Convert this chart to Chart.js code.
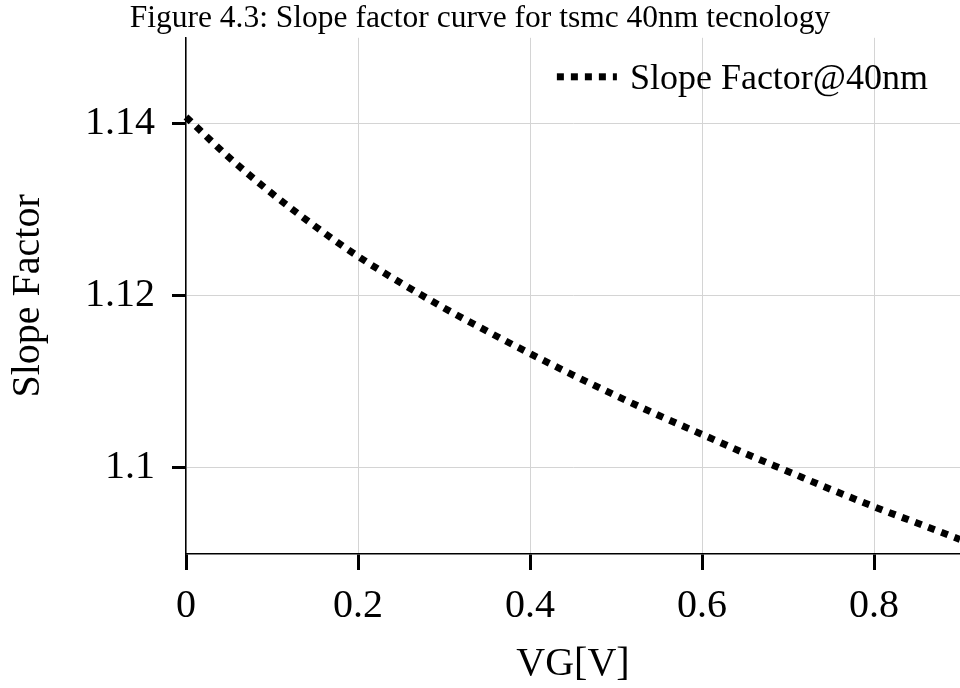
<!DOCTYPE html>
<html><head><meta charset="utf-8">
<script src="https://cdn.jsdelivr.net/npm/chart.js@4/dist/chart.umd.min.js"></script>
<style>html,body{margin:0;padding:0;background:#fff;overflow:hidden}</style>
</head><body>
<canvas id="c" width="960" height="688"></canvas>
<script>
const titleText = 'Figure 4.3: Slope factor curve for tsmc 40nm tecnology';
const seriesLabel = 'Slope Factor@40nm';
const xTitle = 'VG[V]';
const yTitle = 'Slope Factor';
const vg = [0, 0.05, 0.1, 0.15, 0.2, 0.25, 0.3, 0.35, 0.4, 0.45, 0.5, 0.55, 0.6, 0.65, 0.7, 0.75, 0.8, 0.85, 0.9];
const slopeFactor = [1.1408, 1.1361, 1.1319, 1.1281, 1.1246, 1.1215, 1.1186, 1.1159, 1.1133, 1.1108, 1.1084, 1.1061, 1.1039, 1.1017, 1.0996, 1.0975, 1.0955, 1.0936, 1.0917];
const xTicks = [0, 0.2, 0.4, 0.6, 0.8];
const yTicks = [1.1, 1.12, 1.14];
const xRange = [0, 0.9];
const yRange = [1.09, 1.15];

const FONT = "'Liberation Serif', 'Times New Roman', serif";

const insetLegend = {
  id: 'insetLegend',
  afterDraw(chart) {
    const ds = chart.data.datasets[0];
    const ctx = chart.ctx;
    const a = chart.chartArea;
    ctx.save();
    ctx.font = '36px ' + FONT;
    const tw = ctx.measureText(ds.label).width;
    const tx = a.right - 32 - tw;
    const ty = a.top + 42;
    ctx.fillStyle = '#000';
    ctx.textBaseline = 'middle';
    ctx.textAlign = 'left';
    ctx.fillText(ds.label, tx, ty);
    ctx.strokeStyle = ds.borderColor;
    ctx.lineWidth = ds.borderWidth;
    ctx.lineCap = 'butt';
    ctx.setLineDash(ds.borderDash);
    ctx.beginPath();
    ctx.moveTo(tx - 13 - 60, ty - 3);
    ctx.lineTo(tx - 13, ty - 3);
    ctx.stroke();
    ctx.restore();
  }
};

new Chart(document.getElementById('c'), {
  type: 'line',
  data: {
    datasets: [{
      label: seriesLabel,
      data: vg.map((x, i) => ({x: x, y: slopeFactor[i]})),
      borderColor: '#000',
      borderWidth: 7,
      borderDash: [7, 7],
      borderCapStyle: 'butt',
      pointRadius: 0,
      fill: false,
      cubicInterpolationMode: 'monotone',
      clip: false
    }]
  },
  options: {
    responsive: false,
    animation: false,
    devicePixelRatio: 1,
    layout: {padding: 0},
    plugins: {
      legend: {display: false},
      tooltip: {enabled: false},
      title: {
        display: true,
        text: titleText,
        color: '#000',
        font: {family: FONT, size: 31.5, weight: 'normal', lineHeight: 1.2},
        padding: {top: 0, bottom: 0}
      }
    },
    scales: {
      x: {
        type: 'linear',
        min: xRange[0],
        max: xRange[1],
        afterBuildTicks: s => { s.ticks = xTicks.map(v => ({value: v})); },
        afterFit: s => { s.height = 134; s.paddingRight = 0; },
        ticks: {
          callback: v => String(v),
          color: '#000',
          font: {family: FONT, size: 40},
          padding: 12,
          maxRotation: 0,
          autoSkip: false
        },
        grid: {color: '#d4d4d4', lineWidth: 1, tickColor: '#000', tickWidth: 3, tickLength: 16},
        border: {color: '#000', width: 1.5},
        title: {display: true, text: xTitle, color: '#000', font: {family: FONT, size: 40}, padding: {top: 0, bottom: 0}}
      },
      y: {
        type: 'linear',
        min: yRange[0],
        max: yRange[1],
        afterBuildTicks: s => { s.ticks = yTicks.map(v => ({value: v})); },
        afterFit: s => { s.width = 186; s.paddingTop = 0; s.paddingBottom = 0; },
        ticks: {
          callback: v => String(v),
          color: '#000',
          font: {family: FONT, size: 40},
          padding: 17,
          autoSkip: false
        },
        grid: {color: '#d4d4d4', lineWidth: 1, tickColor: '#000', tickWidth: 3, tickLength: 14},
        border: {color: '#000', width: 1.5},
        title: {display: true, text: yTitle, color: '#000', font: {family: FONT, size: 40}, padding: {top: 4, bottom: 0}}
      }
    }
  },
  plugins: [insetLegend]
});
</script>
</body></html>
